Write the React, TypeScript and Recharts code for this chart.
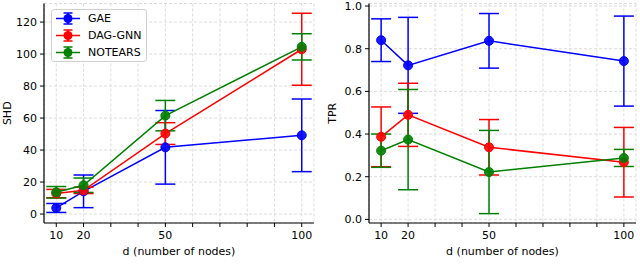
import React from "react";
import { LineChart, Line, XAxis, YAxis, CartesianGrid, ErrorBar } from "recharts";

const dValues = [10, 20, 50, 100];
const xTicks = [10, 20, 30, 40, 50, 60, 70, 80, 90, 100];
const labeledTicks = [10, 20, 50, 100];

const shdGae = [3.8, 14.2, 41.7, 49.2];
const shdGaeErr = [2.8, 10.2, 23, 22.7];
const shdDag = [12.8, 14.8, 50.3, 103];
const shdDagErr = [2.6, 2, 6.8, 22.5];
const shdNotears = [13.6, 18, 61.5, 104.5];
const shdNotearsErr = [3.6, 4.5, 9.5, 8.2];
const shdTicks = [0, 20, 40, 60, 80, 100, 120];

const tprGae = [0.84, 0.722, 0.837, 0.742];
const tprGaeErr = [0.1, 0.225, 0.128, 0.211];
const tprDag = [0.387, 0.49, 0.338, 0.268];
const tprDagErr = [0.14, 0.148, 0.13, 0.163];
const tprNotears = [0.322, 0.374, 0.222, 0.288];
const tprNotearsErr = [0.078, 0.235, 0.195, 0.04];
const tprTicks = [0, 0.2, 0.4, 0.6, 0.8, 1.0];

const seriesNames = ["GAE", "DAG-GNN", "NOTEARS"];
const colors = ["#0000ff", "#ff0000", "#008000"];

const shdData = dValues.map((d, i) => ({
  d,
  gae: shdGae[i], gaeErr: shdGaeErr[i],
  dag: shdDag[i], dagErr: shdDagErr[i],
  notears: shdNotears[i], notearsErr: shdNotearsErr[i],
}));

const tprData = dValues.map((d, i) => ({
  d,
  gae: tprGae[i], gaeErr: tprGaeErr[i],
  dag: tprDag[i], dagErr: tprDagErr[i],
  notears: tprNotears[i], notearsErr: tprNotearsErr[i],
}));

const font = "DejaVu Sans, sans-serif";
const tickStyle = { fontSize: 11, fill: "#000", fontFamily: font };

function Dot(props: any) {
  const { cx, cy, stroke } = props;
  if (cx == null || cy == null) return null;
  return <circle cx={cx} cy={cy} r={4.5} fill={stroke} fillOpacity={0.9} stroke={stroke} strokeWidth={1} />;
}

function LegendBox() {
  return (
    <div
      style={{
        position: "absolute", left: 51, top: 9, width: 96, height: 53,
        border: "1px solid #d0d0d0", borderRadius: 3, background: "rgba(255,255,255,0.85)",
        fontFamily: font, fontSize: 11, boxSizing: "border-box",
      }}
    >
      {seriesNames.map((name, i) => (
        <div key={name} style={{ position: "absolute", left: 3, top: 2 + i * 17, height: 13, display: "flex", alignItems: "center" }}>
          <svg width={26} height={13}>
            <line x1={1} y1={6.5} x2={25} y2={6.5} stroke={colors[i]} strokeWidth={1.5} />
            <line x1={13} y1={1} x2={13} y2={12} stroke={colors[i]} strokeWidth={1.5} />
            <line x1={8.5} y1={1} x2={17.5} y2={1} stroke={colors[i]} strokeWidth={1.5} />
            <line x1={8.5} y1={12} x2={17.5} y2={12} stroke={colors[i]} strokeWidth={1.5} />
            <circle cx={13} cy={6.5} r={4.5} fill={colors[i]} />
          </svg>
          <span style={{ marginLeft: 7, lineHeight: "13px" }}>{name}</span>
        </div>
      ))}
    </div>
  );
}

function Panel({ data, yLabel, yTicks, yDomain, yFmt, left, width, yAxisWidth, labelX, legend }: any) {
  const keys = ["gae", "dag", "notears"];
  return (
    <div style={{ position: "absolute", left, top: 0, width, height: 279 }}>
      <LineChart width={width} height={279} data={data} margin={{ top: 3.5, right: 4, bottom: 0, left: 0 }}>
        <CartesianGrid stroke="#dcdcdc" strokeDasharray="3 2" />
        <XAxis
          dataKey="d" type="number" domain={[5.5, 104.5]} ticks={xTicks} interval={0}
          tickFormatter={(v: number) => (labeledTicks.includes(v) ? String(v) : "")}
          tick={tickStyle} tickSize={4} tickMargin={4} height={56}
          stroke="#000" axisLine={{ stroke: "#000", strokeWidth: 1.2 }}
          label={{ value: "d (number of nodes)", position: "insideTop", offset: 24, style: { fontSize: 11, fill: "#000", fontFamily: font } }}
        />
        <XAxis xAxisId="top" orientation="top" dataKey="d" type="number" domain={[5.5, 104.5]} tick={false} tickLine={false} height={0} axisLine={{ stroke: "#000", strokeWidth: 1.2 }} />
        <YAxis
          type="number" domain={yDomain} ticks={yTicks} tickFormatter={yFmt} allowDataOverflow
          tick={tickStyle} tickSize={4} tickMargin={3} width={yAxisWidth}
          stroke="#000" axisLine={{ stroke: "#000", strokeWidth: 1.2 }}
          label={{ value: yLabel, angle: -90, position: "insideLeft", offset: labelX, style: { fontSize: 11, fill: "#000", fontFamily: font, textAnchor: "middle" } }}
        />
        <YAxis yAxisId="right" orientation="right" domain={yDomain} tick={false} tickLine={false} width={0} axisLine={{ stroke: "#000", strokeWidth: 1.2 }} />
        {keys.map((k, i) => (
          <Line
            key={k} dataKey={k} name={seriesNames[i]} stroke={colors[i]} strokeWidth={1.5}
            dot={<Dot />} activeDot={false} isAnimationActive={false}
          >
            <ErrorBar dataKey={k + "Err"} width={10} stroke={colors[i]} strokeWidth={1.5} direction="y" />
          </Line>
        ))}
      </LineChart>
      {legend ? <LegendBox /> : null}
    </div>
  );
}

export default function App() {
  return (
    <div style={{ position: "absolute", left: 0, top: 0, width: 640, height: 279, background: "#fff", overflow: "hidden" }}>
      <Panel
        data={shdData} yLabel="SHD" yTicks={shdTicks} yDomain={[-5.6, 131.6]} yFmt={(v: number) => String(v)}
        left={0} width={318} yAxisWidth={44} labelX={7} legend
      />
      <Panel
        data={tprData} yLabel="TPR" yTicks={tprTicks} yDomain={[-0.017, 1.012]} yFmt={(v: number) => v.toFixed(1)}
        left={320} width={320} yAxisWidth={49} labelX={12}
      />
    </div>
  );
}
